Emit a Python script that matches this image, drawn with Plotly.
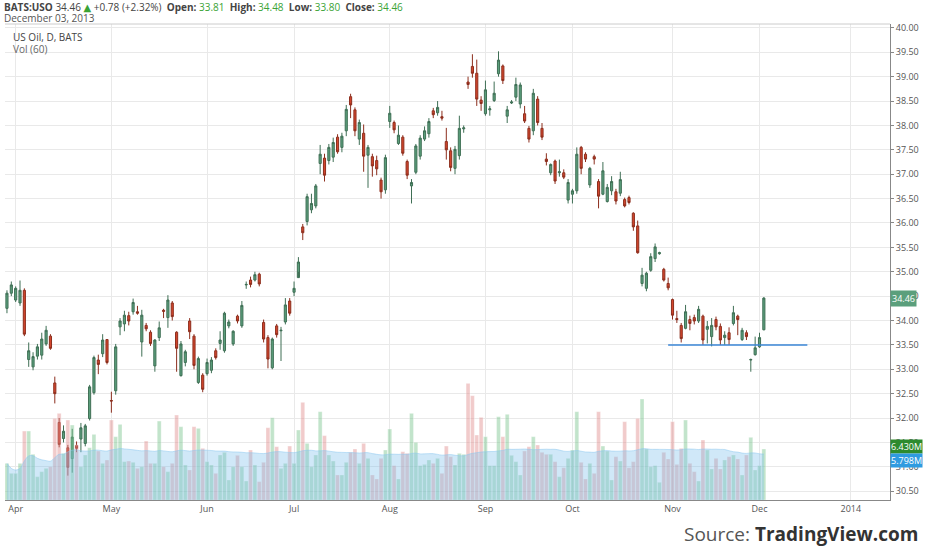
import pandas as pd
import plotly.graph_objects as go

# daily bars for BATS:USO, 27 Mar 2013 - 3 Dec 2013
opens = [
    34.25, 34.56,
    34.42, 34.36, 34.62, 33.20, 33.05, 33.27, 33.29, 33.52, 33.68, 32.72, 31.91, 31.58, 31.39, 31.17, 31.44, 31.57,
    31.48, 31.99, 32.52, 33.19, 33.32, 33.61,
    32.36, 32.56, 33.87, 33.93, 34.10, 34.18, 34.18, 33.56, 33.90, 33.76, 33.07, 33.65, 34.21, 34.06, 34.36, 33.76,
    32.87, 33.14, 33.99, 33.68, 32.73, 32.88,
    32.91, 32.98, 33.38, 33.53, 33.38, 33.89, 33.52, 34.09, 33.89, 34.73, 34.83, 34.83, 34.95, 33.96, 33.65, 33.03,
    33.89, 33.79, 33.97, 34.40,
    34.58, 34.88, 35.92, 36.03, 36.27, 36.35, 37.22, 37.33, 37.28, 37.35, 37.76, 37.55, 37.89, 38.59, 38.32, 37.72,
    37.84, 37.39, 37.36, 37.28, 36.88, 36.68,
    38.08, 38.06, 37.63, 37.76, 37.26, 36.76, 37.04, 37.37, 37.72, 37.83, 38.30, 38.26, 38.18, 37.67, 37.48, 37.12,
    37.38, 37.93, 38.89, 39.21, 39.07, 38.52,
    38.24, 38.32, 38.51, 39.06, 39.22, 38.19, 38.46, 38.58, 38.44, 38.24, 37.94, 37.89, 38.54, 37.94, 37.31, 37.03,
    37.27, 37.03, 37.03, 36.47,
    36.59, 36.66, 37.55, 37.41, 36.78, 37.36, 36.85, 36.59, 36.44, 36.66, 36.64, 36.61, 36.48, 36.52, 36.20, 35.94,
    34.76, 34.66, 35.03, 35.27, 35.37, 35.05, 34.76,
    34.43, 34.04, 33.90, 33.84, 34.02, 34.06, 33.99, 34.09, 33.82, 33.67, 34.02, 33.88, 33.65, 33.75, 33.94, 34.09,
    33.61, 33.75, 33.19, 33.30,
    33.46, 33.81,
]
closes = [
    34.56, 34.73,
    34.66, 34.62, 33.72, 33.38, 33.26, 33.46, 33.62, 33.80, 33.43, 32.50, 31.46, 31.73, 30.99, 31.61, 31.38, 31.80,
    31.84, 32.64, 33.24, 33.10, 33.60, 33.14,
    32.35, 33.46, 33.99, 34.11, 33.99, 34.37, 34.15, 34.11, 33.83, 33.53, 33.60, 33.85, 34.19, 34.42, 34.08, 33.43,
    33.52, 33.36, 33.77, 33.08, 33.22, 32.59,
    33.14, 33.19, 33.24, 33.60, 34.15, 33.97, 33.78, 33.99, 34.31, 34.74, 34.74, 34.94, 34.75, 33.62, 33.21, 33.62,
    33.71, 33.80, 34.32, 34.15,
    34.66, 35.20, 35.80, 36.54, 36.40, 36.76, 37.41, 36.98, 37.55, 37.65, 37.46, 37.78, 38.33, 38.42, 37.89, 38.06,
    37.37, 37.55, 37.17, 37.11, 36.64, 37.34,
    38.25, 37.91, 37.80, 37.43, 36.98, 36.83, 37.58, 37.74, 37.89, 38.08, 38.22, 38.37, 38.15, 37.50, 37.14, 37.51,
    37.94, 37.95, 38.84, 39.07, 38.54, 38.45,
    38.73, 38.34, 38.66, 39.34, 38.92, 38.32, 38.48, 38.84, 38.83, 38.09, 37.72, 38.66, 38.06, 37.76, 37.26, 37.20,
    36.86, 37.05, 36.94, 36.83,
    36.66, 37.41, 37.12, 37.31, 37.12, 37.31, 36.55, 37.07, 36.73, 36.85, 36.45, 36.89, 36.35, 36.42, 35.92, 35.39,
    34.93, 34.97, 35.31, 35.51, 35.39, 34.83, 34.67,
    34.11, 34.02, 33.63, 34.18, 33.94, 33.99, 34.23, 33.60, 33.88, 33.90, 33.87, 33.60, 33.70, 33.61, 34.16, 34.02,
    33.80, 33.67, 33.20, 33.44,
    33.65, 34.46,
]
highs = [
    34.62, 34.80,
    34.70, 34.82, 34.66, 33.55, 33.35, 33.52, 33.75, 33.89, 33.72, 32.85, 32.00, 31.85, 31.45, 31.78, 31.52, 31.90,
    31.88, 32.68, 33.28, 33.30, 33.72, 33.62,
    32.54, 33.52, 34.05, 34.20, 34.18, 34.45, 34.30, 34.22, 33.95, 33.80, 33.62, 33.98, 34.24, 34.52, 34.40, 33.78,
    33.58, 33.40, 34.05, 33.72, 33.26, 32.92,
    33.22, 33.25, 33.43, 33.78, 34.18, 34.02, 33.80, 34.12, 34.40, 34.80, 34.90, 35.00, 34.98, 34.02, 33.70, 33.65,
    33.93, 33.87, 34.46, 34.46,
    34.80, 35.30, 35.98, 36.60, 36.60, 36.80, 37.60, 37.42, 37.62, 37.75, 37.82, 37.85, 38.42, 38.65, 38.37, 38.12,
    38.02, 37.60, 37.42, 37.38, 36.93, 37.40,
    38.40, 38.10, 38.00, 37.80, 37.30, 36.90, 37.62, 37.80, 37.98, 38.15, 38.36, 38.50, 38.30, 37.95, 37.55, 37.58,
    38.20, 38.00, 39.00, 39.46, 39.35, 38.60,
    38.92, 38.40, 38.90, 39.52, 39.25, 38.40, 38.52, 38.98, 38.88, 38.40, 37.99, 38.75, 38.60, 38.05, 37.43, 37.22,
    37.30, 37.30, 37.10, 36.90,
    36.70, 37.55, 37.58, 37.45, 37.15, 37.40, 36.90, 37.25, 36.80, 36.96, 36.70, 37.05, 36.52, 36.56, 36.22, 36.05,
    35.08, 35.00, 35.38, 35.58, 35.41, 35.08, 34.88,
    34.45, 34.20, 33.95, 34.32, 34.10, 34.12, 34.30, 34.12, 33.99, 34.05, 34.08, 33.94, 33.78, 33.86, 34.30, 34.12,
    33.85, 33.80, 33.22, 33.67,
    33.75, 34.48,
]
lows = [
    34.15, 34.50,
    34.38, 34.30, 33.68, 33.05, 32.98, 33.20, 33.20, 33.48, 33.40, 32.30, 31.40, 31.50, 30.82, 30.88, 31.30, 31.30,
    31.42, 31.95, 32.48, 32.90, 33.25, 33.10,
    32.11, 32.48, 33.70, 33.78, 33.90, 34.12, 34.12, 33.26, 33.78, 33.48, 32.95, 33.58, 34.05, 33.85, 34.00, 32.95,
    32.85, 33.06, 33.62, 33.00, 32.70, 32.53,
    32.87, 32.92, 33.20, 33.40, 33.34, 33.84, 33.48, 33.94, 33.85, 34.65, 34.68, 34.80, 34.70, 33.55, 33.02, 33.00,
    33.65, 33.17, 33.92, 34.10,
    34.50, 35.00, 35.65, 35.95, 36.20, 36.30, 37.00, 36.85, 37.20, 37.25, 37.42, 37.45, 37.78, 38.15, 37.78, 37.60,
    37.05, 36.72, 36.95, 36.98, 36.50, 36.60,
    37.95, 37.84, 37.60, 37.38, 36.90, 36.40, 37.00, 37.30, 37.68, 37.75, 38.15, 38.20, 38.10, 37.30, 37.06, 37.00,
    37.30, 37.85, 38.75, 38.98, 38.40, 38.30,
    38.20, 38.20, 38.48, 39.00, 38.85, 38.05, 38.44, 38.50, 38.35, 38.05, 37.65, 37.80, 38.00, 37.70, 37.18, 36.98,
    36.80, 36.95, 36.90, 36.40,
    36.40, 36.60, 37.00, 37.25, 36.72, 37.20, 36.30, 36.57, 36.42, 36.57, 36.38, 36.55, 36.32, 36.38, 35.84, 35.37,
    34.70, 34.60, 35.00, 35.20, 35.35, 34.80, 34.62,
    34.02, 33.95, 33.55, 33.82, 33.80, 33.92, 33.95, 33.50, 33.53, 33.47, 33.80, 33.50, 33.50, 33.50, 33.90, 33.70,
    33.58, 33.60, 32.95, 33.28,
    33.44, 33.80,
]
# volume in millions of shares
volumes = [
    4.62, 3.36,
    3.36, 4.62, 8.69, 8.69, 5.76, 2.94, 3.57, 3.99, 4.20, 10.29, 10.92, 5.88, 10.08, 9.45, 6.93, 4.20, 5.67, 6.59,
    8.27, 6.17, 4.62, 5.04,
    10.08, 7.98, 9.53, 4.83, 4.91, 4.75, 3.99, 4.20, 7.43, 4.62, 4.62, 9.95, 4.20, 3.57, 4.62, 10.71, 9.24, 4.41,
    3.78, 9.24, 9.03, 6.51,
    4.83, 4.41, 3.36, 5.67, 6.01, 2.52, 4.20, 5.63, 4.20, 2.39, 6.30, 4.41, 2.31, 4.75, 9.11, 10.37, 6.72, 3.99,
    4.62, 6.80,
    4.62, 8.82, 12.31, 7.14, 4.20, 5.67, 11.13, 8.11, 5.67, 4.91, 3.15, 3.15, 4.75, 6.01, 6.43, 4.62, 7.14, 5.25,
    3.15, 2.65, 5.25, 6.30,
    8.95, 4.33, 2.65, 6.09, 5.88, 10.92, 7.27, 4.33, 4.49, 5.04, 4.62, 5.25, 3.36, 6.80, 5.46, 4.41, 5.88, 5.76,
    14.70, 13.15, 8.19, 10.42,
    7.98, 4.33, 4.33, 10.50, 7.98, 10.80, 5.63, 4.83, 3.15, 6.17, 6.72, 7.98, 6.93, 6.01, 5.76, 5.76, 4.83, 2.94,
    4.07, 5.25,
    6.30, 11.13, 4.75, 2.65, 4.62, 3.36, 11.13, 6.80, 6.17, 2.52, 5.46, 4.91, 9.87, 4.07, 4.83, 10.29, 12.73, 6.43,
    4.20, 4.33, 2.23, 6.01, 5.17,
    9.87, 4.49, 6.51, 10.08, 4.62, 3.57, 2.39, 7.56, 6.30, 3.91, 5.25, 3.91, 5.04, 5.46, 5.67, 5.17, 3.15, 5.67,
    7.90, 3.78,
    4.33, 6.43,
]

holidays = ['2013-03-29', '2013-05-27', '2013-07-04', '2013-09-02', '2013-11-28',
            '2013-12-25', '2014-01-01']
month_labels = ['Apr', 'May', 'Jun', 'Jul', 'Aug', 'Sep', 'Oct', 'Nov', 'Dec', '2014']
month_starts = ['2013-04-01', '2013-05-01', '2013-06-03', '2013-07-01', '2013-08-01',
                '2013-09-03', '2013-10-01', '2013-11-01', '2013-12-02', '2014-01-02']
support_level = 33.50
support_from, support_to = '2013-10-31', '2013-12-17'

# trading-day index so there are no weekend gaps (like TradingView)
days = pd.bdate_range('2013-03-27', '2014-01-31')
days = days[~days.isin(pd.to_datetime(holidays))]
pos = {d.strftime('%Y-%m-%d'): i for i, d in enumerate(days)}
x = list(range(len(opens)))

vol_ma = pd.Series(volumes).rolling(60, min_periods=1).mean()

GREEN, RED = '#5b9f7c', '#d4462d'
vol_colors = ['rgba(120,195,140,0.45)' if c >= o else 'rgba(225,140,140,0.45)'
              for o, c in zip(opens, closes)]

fig = go.Figure()
fig.add_trace(go.Bar(x=x, y=volumes, yaxis='y2', marker_color=vol_colors,
                     marker_line=dict(color='rgba(255,255,255,0.6)', width=0.5), width=0.9))
fig.add_trace(go.Scatter(x=x, y=vol_ma, yaxis='y2', mode='lines', fill='tozeroy',
                         line=dict(color='rgba(140,200,240,0.5)', width=1, shape='spline'),
                         fillcolor='rgba(120,190,235,0.35)'))
fig.add_trace(go.Candlestick(
    x=x, open=opens, high=highs, low=lows, close=closes, whiskerwidth=0,
    increasing=dict(line=dict(color='#3f6f55', width=1), fillcolor=GREEN),
    decreasing=dict(line=dict(color='#8c2e1d', width=1), fillcolor=RED)))
fig.add_trace(go.Scatter(x=[pos[support_from], pos[support_to]], y=[support_level] * 2,
                         mode='lines', line=dict(color='#3a86d6', width=1.5)))

grid = '#e9e9e9'
fig.update_layout(
    width=932, height=550, margin=dict(l=5, r=42, t=24, b=50),
    paper_bgcolor='white', plot_bgcolor='white', showlegend=False,
    font=dict(family='Open Sans, DejaVu Sans', size=10, color='#555'),
    xaxis=dict(range=[-0.45, 203], tickvals=[pos[d] for d in month_starts], ticktext=month_labels,
               showgrid=True, gridcolor=grid, rangeslider=dict(visible=False), showline=True,
               linecolor='#888', mirror=False, ticks='', zeroline=False, tickfont=dict(size=9, color='#555')),
    yaxis=dict(range=[30.32, 40.08], side='right', dtick=0.5, tickformat='.2f', showgrid=True,
               gridcolor=grid, showline=True, linecolor='#888', ticks='outside', ticklen=3,
               tickcolor='#888', zeroline=False, tickfont=dict(size=9, color='#555')),
    yaxis2=dict(range=[0, 60], overlaying='y', visible=False),
    barmode='overlay',
)
fig.add_shape(type='line', xref='paper', yref='paper', x0=0, x1=1, y0=1, y1=1,
              line=dict(color='#ccc', width=1))

up = '#3aa335'
head = (f"<b>BATS:USO</b> 34.46 <span style='color:{up}'>▲</span> +0.78 (+2.32%)  "
        f"<b>Open:</b> <span style='color:{up}'>33.81</span>  <b>High:</b> "
        f"<span style='color:{up}'>34.48</span>  <b>Low:</b> <span style='color:{up}'>33.80</span>  "
        f"<b>Close:</b> <span style='color:{up}'>34.46</span>")
fig.add_annotation(text=head, xref='paper', yref='paper', x=0, y=1, xshift=-3, yshift=17,
                   xanchor='left', yanchor='middle', showarrow=False, font=dict(size=10, color='#444'))
fig.add_annotation(text='December 03, 2013', xref='paper', yref='paper', x=0, y=1, xshift=-3, yshift=6,
                   xanchor='left', yanchor='middle', showarrow=False, font=dict(size=10, color='#555'))
fig.add_annotation(text='US Oil, D, BATS', xref='paper', yref='paper', x=0, y=1, xshift=6, yshift=-13,
                   xanchor='left', yanchor='middle', showarrow=False, font=dict(size=10, color='#444'))
fig.add_annotation(text='Vol (60)', xref='paper', yref='paper', x=0, y=1, xshift=6, yshift=-25,
                   xanchor='left', yanchor='middle', showarrow=False, font=dict(size=10, color='#666'))

# last-value labels on the right axis
fig.add_annotation(text=f'{closes[-1]:.2f}', xref='paper', yref='y', x=1, y=closes[-1], xanchor='left',
                   showarrow=False, bgcolor=GREEN, font=dict(size=9, color='white'), borderpad=1)
fig.add_annotation(text=f'{volumes[-1]:.3f}M', xref='paper', yref='y2', x=1, y=volumes[-1] + 0.3,
                   xanchor='left', showarrow=False, bgcolor='#2e8b2e', font=dict(size=9, color='white'),
                   borderpad=0)
fig.add_annotation(text=f'{vol_ma.iloc[-1]:.3f}M', xref='paper', yref='y2', x=1, y=vol_ma.iloc[-1] - 0.8,
                   xanchor='left', showarrow=False, bgcolor='#2f9be0', font=dict(size=9, color='white'),
                   borderpad=0)

fig.add_annotation(text="<span style='color:#555'>Source: </span><b>TradingView.com</b>",
                   xref='paper', yref='paper', x=1, y=0, xshift=30, yshift=-34, xanchor='right',
                   yanchor='middle', showarrow=False,
                   font=dict(family='Open Sans, DejaVu Sans', size=19, color='#333'))

fig.write_html('out.html', config={'displayModeBar': False},
               post_script="document.body.style.margin='0px';")
